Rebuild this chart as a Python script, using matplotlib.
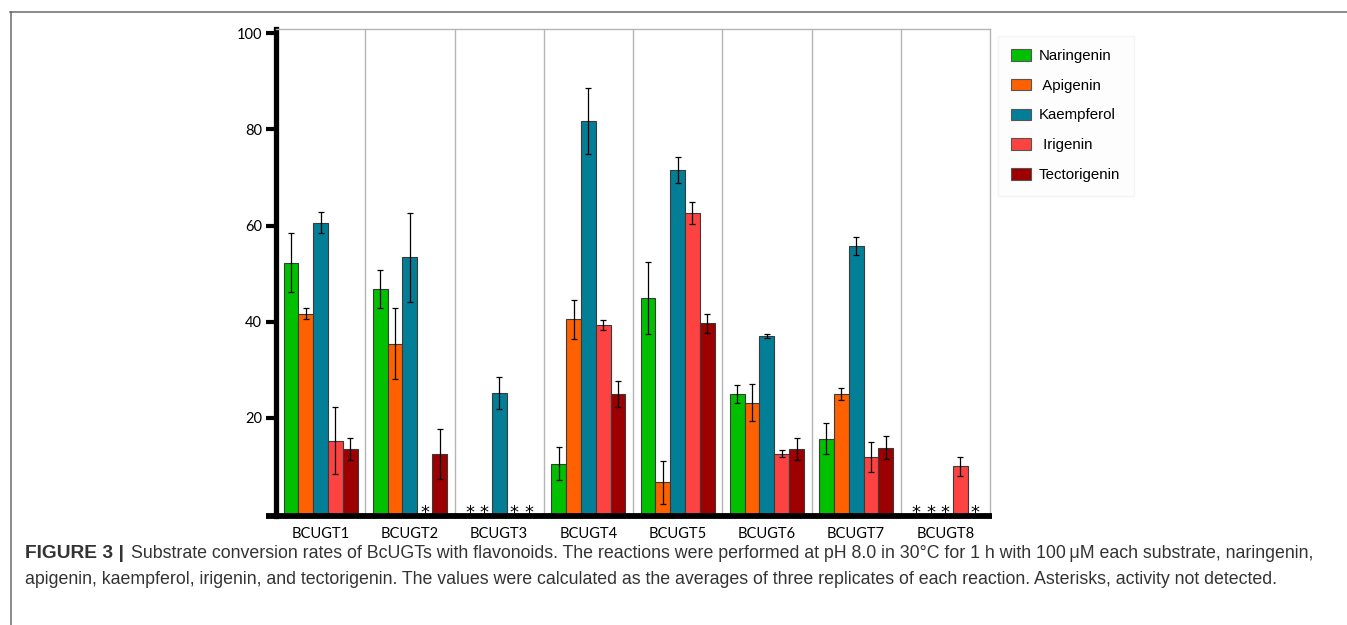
import numpy as np
import matplotlib
matplotlib.use("Agg")
import matplotlib.pyplot as plt
from matplotlib.patches import Patch
from matplotlib.lines import Line2D

# enzymes and substrates
enzymes = ["BCUGT1", "BCUGT2", "BCUGT3", "BCUGT4", "BCUGT5", "BCUGT6", "BCUGT7", "BCUGT8"]
substrates = ["Naringenin", " Apigenin", "Kaempferol", " Irigenin", "Tectorigenin"]
colors = ["#00c000", "#ff6100", "#037e97", "#fd4242", "#9c0000"]

# conversion rate (%), nan = not detected (asterisk)
nan = np.nan
naringenin   = [52.3, 46.8, nan, 10.5, 44.9, 25.0, 15.7, nan]
apigenin     = [41.7, 35.4, nan, 40.5, 6.6, 23.2, 25.0, nan]
kaempferol   = [60.6, 53.4, 25.2, 81.8, 71.6, 37.0, 55.8, nan]
irigenin     = [15.3, nan, nan, 39.3, 62.7, 12.6, 11.9, 9.9]
tectorigenin = [13.5, 12.4, nan, 25.0, 39.7, 13.6, 13.8, nan]

naringenin_err   = [6.1, 4.0, 0, 3.4, 7.5, 1.9, 3.2, 0]
apigenin_err     = [1.1, 7.4, 0, 4.0, 4.4, 3.9, 1.3, 0]
kaempferol_err   = [2.2, 9.3, 3.4, 6.9, 2.7, 0.4, 1.9, 0]
irigenin_err     = [6.9, 0, 0, 1.0, 2.3, 0.8, 3.1, 1.9]
tectorigenin_err = [2.3, 5.2, 0, 2.7, 2.0, 2.3, 2.4, 0]

values = [naringenin, apigenin, kaempferol, irigenin, tectorigenin]
errors = [naringenin_err, apigenin_err, kaempferol_err, irigenin_err, tectorigenin_err]

fig = plt.figure(figsize=(13.47, 6.25), dpi=100)
ax = fig.add_axes([276/1347, 1-516/625, (990-276)/1347, (516-29)/625])

x = np.arange(len(enzymes))
w = 0.166
for i in range(5):
    pos = x + (i - 2) * w
    v = np.array(values[i], dtype=float)
    e = np.array(errors[i], dtype=float)
    ok = ~np.isnan(v)
    ax.bar(pos[ok], v[ok], width=w, color=colors[i], edgecolor="#3a3a3a", linewidth=0.8, zorder=3)
    ax.errorbar(pos[ok], v[ok], yerr=e[ok], fmt="none", ecolor="black", elinewidth=0.9,
                capsize=2.5, capthick=0.9, zorder=4)
    # not detected -> asterisk on the baseline
    for p in pos[~ok]:
        ax.text(p, -1.7, "*", ha="center", va="bottom", fontsize=13, zorder=5,
                family="DejaVu Sans")

ax.set_xlim(-0.5, 7.5)
ax.set_ylim(-0.4, 100.9)
for d in np.arange(0.5, 7.5, 1.0):
    ax.axvline(d, color="#b5b5b5", linewidth=1.0, zorder=1)

ax.set_yticks([20, 40, 60, 80, 100])
ax.set_yticklabels(["20", "40", "60", "80", "100"], family="Lato", fontsize=10.5)
ax.tick_params(axis="y", direction="out", length=7, width=3, pad=3)
ax.set_xticks(x)
ax.set_xticklabels(enzymes, family="Lato", fontsize=10.5)
ax.tick_params(axis="x", length=0, pad=8)

ax.spines["left"].set_linewidth(3.8)
ax.spines["left"].set_color("black")
ax.spines["bottom"].set_visible(False)
ax.spines["top"].set_color("#b5b5b5")
ax.spines["right"].set_color("#b5b5b5")
ax.spines["top"].set_linewidth(1.0)
ax.spines["right"].set_linewidth(1.0)
ax.plot([-0.014, 1.003], [0.0, 0.0], transform=ax.transAxes, color="black",
        linewidth=4.2, clip_on=False, solid_capstyle="butt", zorder=6)

handles = [Patch(facecolor=c, edgecolor="#555555", linewidth=0.8) for c in colors]
leg = fig.legend(handles, substrates, loc="upper left", bbox_to_anchor=(990/1347, 1-28/625),
                 prop={"family": "Liberation Sans", "size": 10.8}, labelspacing=1.05,
                 handlelength=1.3, handleheight=0.8, handletextpad=0.55,
                 borderpad=0.9, frameon=True, fancybox=False)
leg.get_frame().set_facecolor("#fdfdfd")
leg.get_frame().set_edgecolor("#f2f2f2")

# outer frame lines
fig.add_artist(Line2D([10/1347, 1], [1-12/625, 1-12/625], color="#6a6a6a", linewidth=1.1))
fig.add_artist(Line2D([11/1347, 11/1347], [0, 1-12/625], color="#6a6a6a", linewidth=1.1))

# caption
cap_font = {"family": "Liberation Sans", "size": 12.8}
t1 = fig.text(25/1347, 1-553/625, "FIGURE 3 |", fontweight="bold", va="center", color="#333333",
              family="Liberation Sans", size=13.8)
fig.canvas.draw()
bb = t1.get_window_extent()
fig.text((bb.x1 + 7)/1347, 1-553/625,
         "Substrate conversion rates of BcUGTs with flavonoids. The reactions were performed at pH 8.0 in 30\u00b0C for 1 h with 100\u2009\u03bcM each substrate, naringenin,",
         va="center", color="#333333", **cap_font)
fig.text(25/1347, 1-580/625,
         "apigenin, kaempferol, irigenin, and tectorigenin. The values were calculated as the averages of three replicates of each reaction. Asterisks, activity not detected.",
         va="center", color="#333333", **cap_font)

fig.savefig("out.png", dpi=100)
